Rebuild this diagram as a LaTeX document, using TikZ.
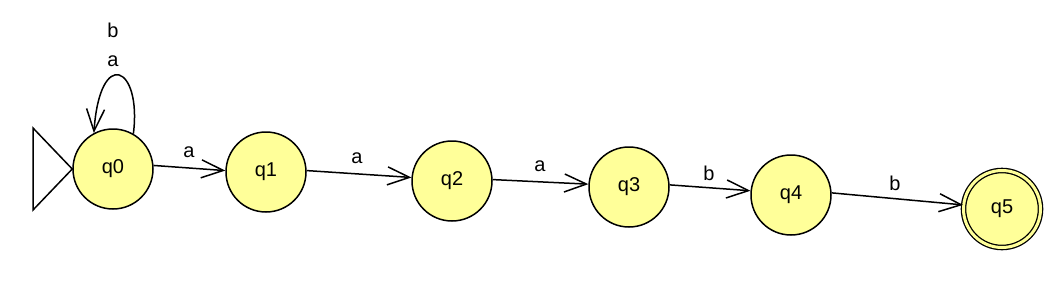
\documentclass[tikz,border=0pt]{standalone}
\usepackage{fontspec}
\setmainfont{Liberation Sans}
\usetikzlibrary{arrows.meta}
\definecolor{stfill}{RGB}{255,255,153}
\begin{document}
\begin{tikzpicture}[x=1pt,y=-1pt,
  state/.style={circle,draw=black,line width=1.5pt,fill=stfill,minimum size=80pt,inner sep=0pt,font=\fontsize{20}{24}\selectfont},
  acc/.style={state,double=stfill,double distance=3pt,line width=1.3pt,minimum size=77pt},
  edge/.style={draw=black,line width=1.5pt,-{Straight Barb[length=22pt,width=18pt,line width=1.5pt]}},
  lbl/.style={font=\fontsize{20}{24}\selectfont,inner sep=0pt}]
\useasboundingbox (0,0) rectangle (1063,287);
\node[state] (q0) at (113,169) {q0};
\node[state] (q1) at (266,172) {q1};
\node[state] (q2) at (452,181) {q2};
\node[state] (q3) at (629,187) {q3};
\node[state] (q4) at (791,195) {q4};
\node[acc]   (q5) at (1002,209) {q5};
% start triangle
\coordinate (s1) at (33,128);
\coordinate (s2) at (33,210);
\draw[line width=1.5pt,line join=miter] (s1) -- (q0.west) -- (s2) -- cycle;
% self loop
\draw[edge] (q0.60) .. controls (142,66) and (100,46) .. (q0.118);
\node[lbl] (la) at (113,61) {a};
\node[lbl] (lb) at (113,30) {b};
% transitions
\draw[edge] (q0.5) -- (q1.178);
\node[lbl] (l01) at (189,152) {a};
\draw[edge] (q1.2) -- (q2.175);
\node[lbl] (l12) at (357,158) {a};
\draw[edge] (q2.2) -- (q3.176);
\node[lbl] (l23) at (540,166) {a};
\draw[edge] (q3.3) -- (q4.174);
\node[lbl] (l34) at (709,173) {b};
\draw[edge] (q4.3) -- (q5.174);
\node[lbl] (l45) at (895,183) {b};
\end{tikzpicture}
\end{document}
